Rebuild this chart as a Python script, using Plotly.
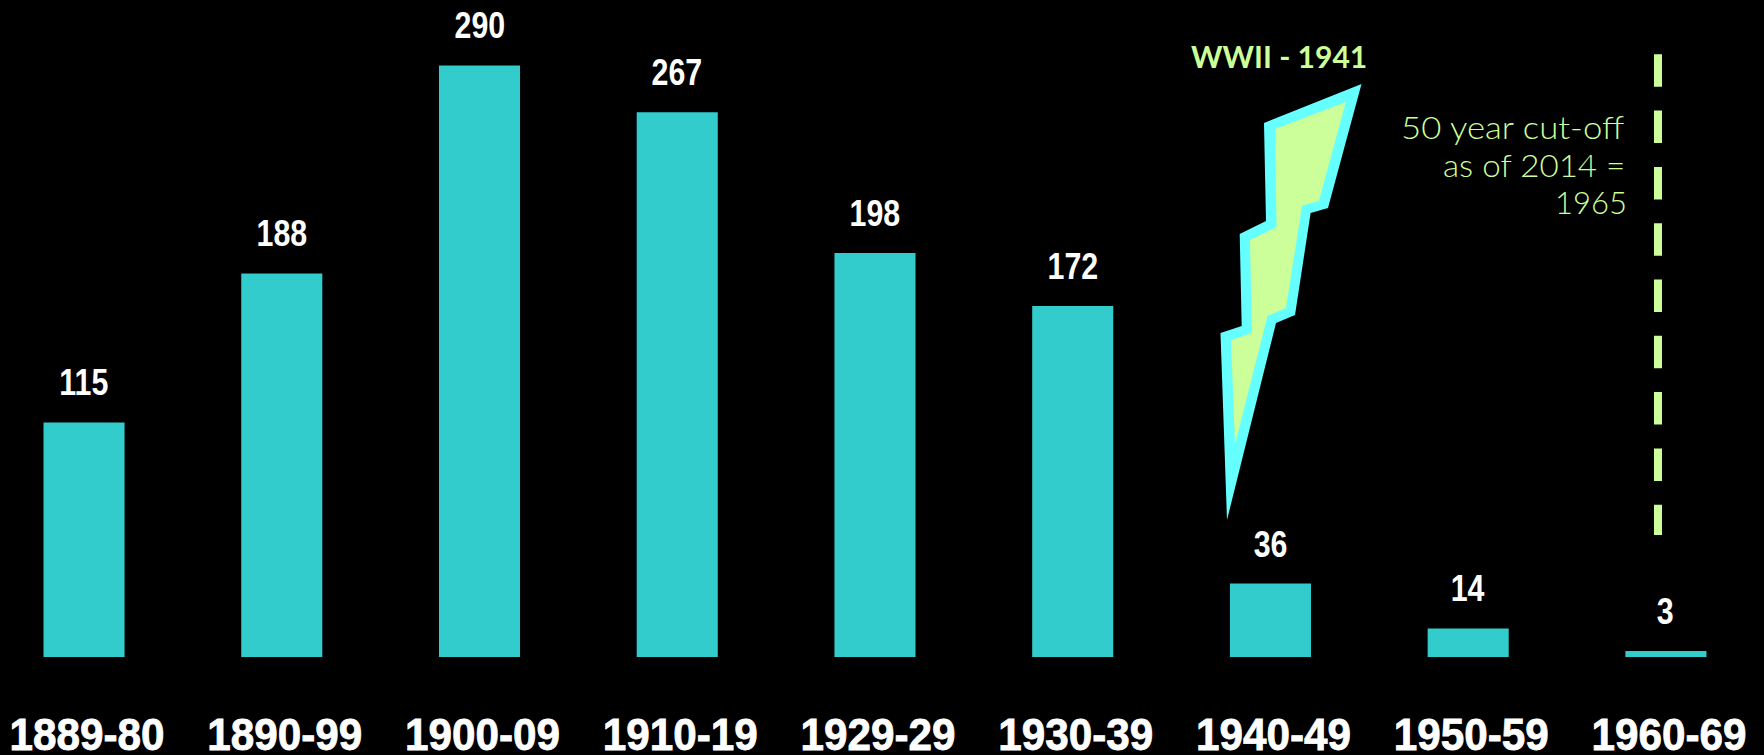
import plotly.graph_objects as go

categories = ["1889-80", "1890-99", "1900-09", "1910-19", "1929-29", "1930-39", "1940-49", "1950-59", "1960-69"]
values = [115, 188, 290, 267, 198, 172, 36, 14, 3]
note_lines = ["50 year cut-off", "as of 2014 =", "1965"]

W, H = 1764, 755
BASE = 657


def pxx(x):
    return x / W


def pxy(y):
    return (BASE - y) / BASE


def path(points):
    return "M " + " L ".join(f"{pxx(x):.5f},{pxy(y):.5f}" for x, y in points) + " Z"


bolt_outer = [(1361.5, 84), (1328, 208), (1310.6, 213), (1295, 315), (1276, 323), (1227, 520),
              (1220.5, 333), (1241.7, 326), (1239.7, 234), (1266, 221), (1264, 123)]
bolt_inner = [(1345.8, 102), (1319, 200.7), (1302, 205.7), (1286, 308), (1267.5, 316), (1235, 444.6),
              (1231, 340), (1251.8, 333), (1250, 240), (1276.5, 227), (1275, 129)]

fig = go.Figure(go.Bar(x=categories, y=values, width=0.41, marker=dict(color="#33CCCC", line_width=0),
                       hoverinfo="skip"))

annotations = [dict(x=c, y=v, xref="x", yref="y", text=str(v), showarrow=False, yanchor="bottom",
                    yshift=17, font=dict(family="Liberation Sans", size=37, color="white", weight="bold"))
               for c, v in zip(categories, values)]
annotations.append(dict(x=pxx(1279), y=pxy(56), xref="paper", yref="paper", text="WWII - 1941", showarrow=False,
                        xanchor="center", yanchor="middle",
                        font=dict(family="Lato", size=30, color="#CCFF99", weight="bold")))
for line, cx, cy in zip(note_lines, [1512.7, 1533.9, 1591], [127, 165, 202]):
    annotations.append(dict(x=pxx(cx), y=pxy(cy), xref="paper", yref="paper", text=line, showarrow=False,
                            xanchor="center", yanchor="middle",
                            font=dict(family="Lato", size=31, color="#CCFF99", weight=300)))

shapes = [
    dict(type="path", xref="paper", yref="paper", path=path(bolt_outer), fillcolor="#66FFFF", line_width=0),
    dict(type="path", xref="paper", yref="paper", path=path(bolt_inner), fillcolor="#CCFF99", line_width=0),
    dict(type="line", xref="paper", yref="paper", x0=pxx(1658), x1=pxx(1658), y0=pxy(54.3), y1=pxy(535),
         line=dict(color="#CCFF99", width=8, dash="32.5px,23.8px")),
]

fig.update_layout(
    width=W, height=H, autosize=False, showlegend=False,
    paper_bgcolor="black", plot_bgcolor="black",
    margin=dict(l=0, r=0, t=0, b=H - BASE),
    annotations=annotations, shapes=shapes,
    xaxis=dict(type="category", range=[-0.425, 8.496], automargin=False, showgrid=False, zeroline=False,
               showline=False, ticks="outside", ticklen=39, tickcolor="black",
               tickfont=dict(family="Liberation Sans", size=44, color="white", weight="bold")),
    yaxis=dict(range=[0, BASE / 2.04], visible=False, showgrid=False, zeroline=False, automargin=False),
)

post = """
document.body.style.margin='0';document.body.style.background='black';
function squeeze(t,r){var n=t.getComputedTextLength();t.setAttribute('lengthAdjust','spacingAndGlyphs');t.setAttribute('textLength',n*r);}
document.querySelectorAll('.annotation-text').forEach(function(t){
  var s=t.textContent;
  if(/^[0-9]{1,3}$/.test(s)){squeeze(t,0.82);}
  else if(s==='50 year cut-off'){squeeze(t,1.12);}
  else if(s==='as of 2014 ='){squeeze(t,1.07);}
});
document.querySelectorAll('.xtick text').forEach(function(t){squeeze(t,0.96);t.setAttribute('dx','3');t.style.stroke='white';t.style.strokeWidth='0.8px';});
"""
fig.write_html("out.html", config={"displayModeBar": False}, post_script=post)
